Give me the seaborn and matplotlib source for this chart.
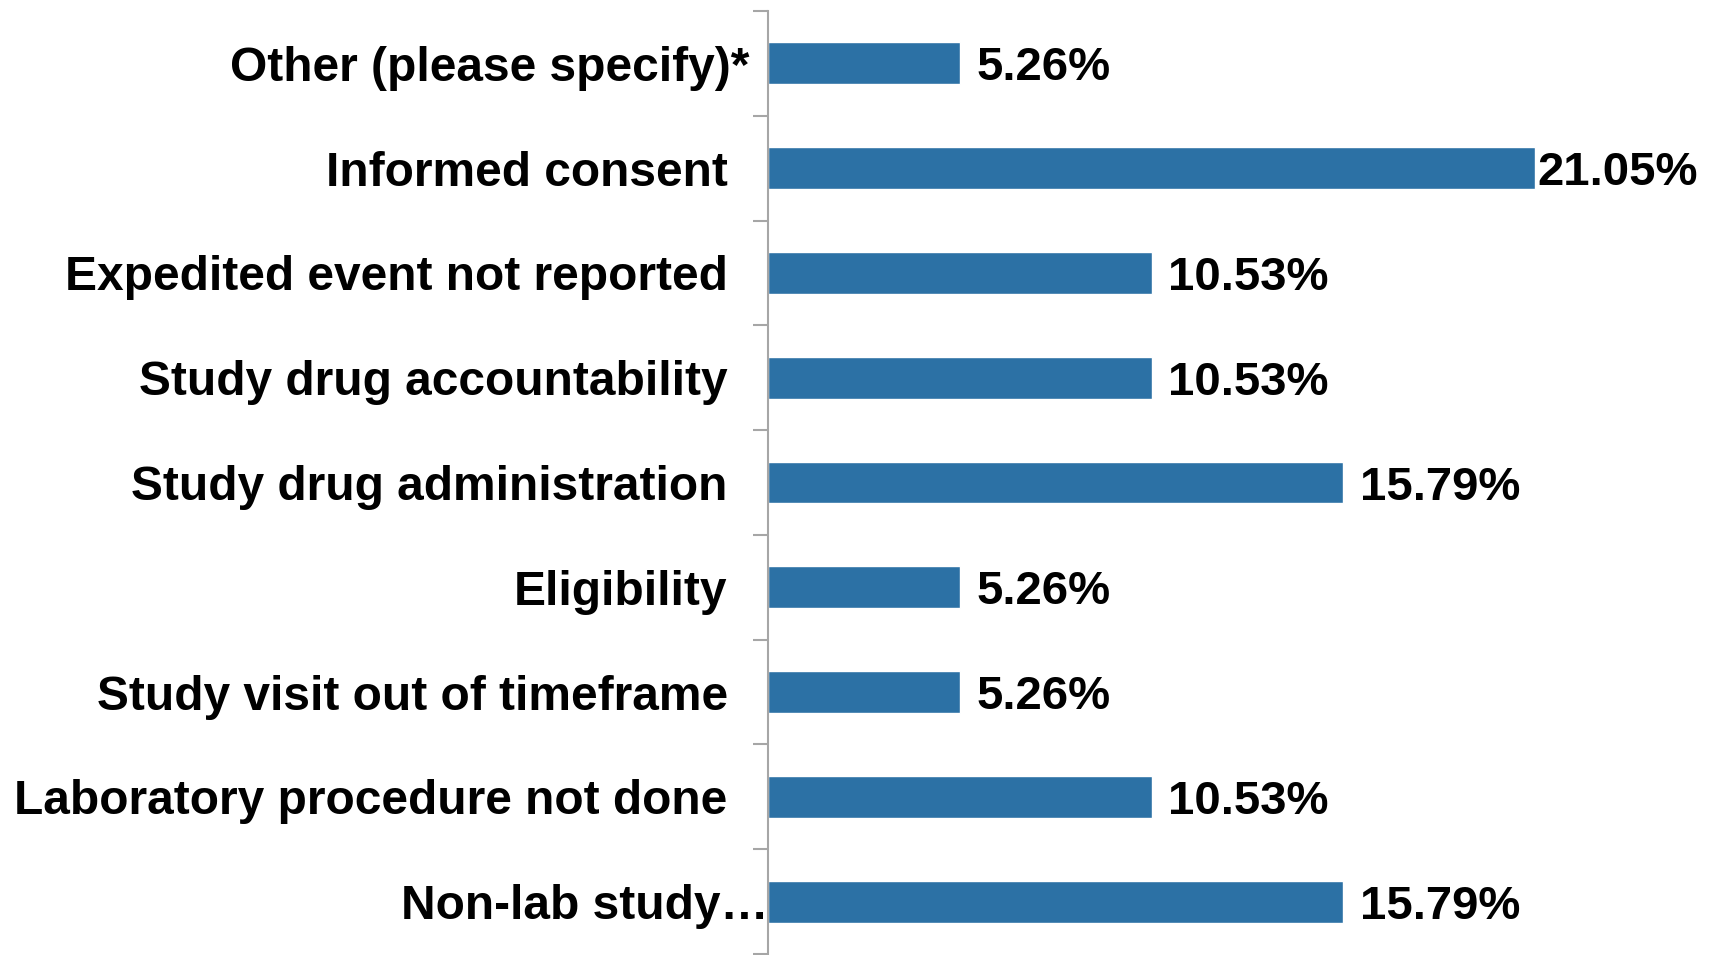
import matplotlib
matplotlib.use("Agg")
import matplotlib.pyplot as plt
import matplotlib.transforms as mtransforms
import seaborn as sns
import pandas as pd
import numpy as np

categories = [
    "Other (please specify)*",
    "Informed consent",
    "Expedited event not reported",
    "Study drug accountability",
    "Study drug administration",
    "Eligibility",
    "Study visit out of timeframe",
    "Laboratory procedure not done",
    "Non-lab study…",
]
percent = [5.26, 21.05, 10.53, 10.53, 15.79, 5.26, 5.26, 10.53, 15.79]

df = pd.DataFrame({"Category": categories, "Percent": percent})

sns.set_style("white")
plt.rcParams["font.family"] = ["Liberation Sans", "DejaVu Sans"]
plt.rcParams["font.weight"] = "bold"

fig = plt.figure(figsize=(17.19, 9.55), dpi=100)
ax = fig.add_axes([768 / 1719, 1 / 955, 1 - 768 / 1719, 943 / 955])

sns.barplot(data=df, x="Percent", y="Category", orient="h",
            color="#2C71A5", width=0.4, saturation=1, ax=ax)

ax.set_xlim(0, 26.1)
ax.set_ylim(len(categories) - 0.5, -0.5)

for i, v in enumerate(percent):
    gap = 2 if v == max(percent) else 12
    ax.annotate(f"{v:.2f}%", xy=(v, i), xytext=(gap, 0),
                textcoords="offset points", va="center_baseline", ha="left",
                fontsize=34, fontweight="bold", color="black")

for s in ["top", "right", "bottom"]:
    ax.spines[s].set_visible(False)
ax.spines["left"].set_color("#A6A6A6")
ax.spines["left"].set_linewidth(1.5)

ax.set_xticks([])
ax.set_xlabel("")
ax.set_ylabel("")
ax.tick_params(axis="y", which="major", left=True, length=0, pad=29,
               labelsize=34.5, labelcolor="black")
for t in ax.get_yticklabels():
    t.set_fontweight("bold")
    t.set_verticalalignment("center_baseline")
# first and last labels sit closer to the axis in the original
labels = ax.get_yticklabels()
for lab, shift in [(labels[0], 0.22), (labels[-1], 0.41)]:
    lab.set_transform(lab.get_transform() +
                      mtransforms.ScaledTranslation(shift, 0, fig.dpi_scale_trans))
ax.set_yticks(np.arange(-0.5, len(categories), 1), minor=True)
ax.tick_params(axis="y", which="minor", left=True, length=11, width=1.5,
               color="#A6A6A6")

fig.savefig("out.png", dpi=100)
